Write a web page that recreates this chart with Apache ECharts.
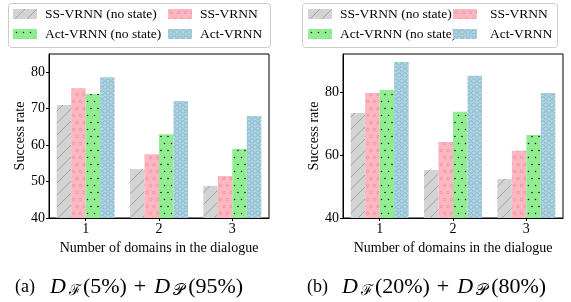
<!DOCTYPE html>
<html>
<head>
	<meta charset="utf-8">
	<title>Success rate by number of domains</title>
	<script src="https://cdn.jsdelivr.net/npm/echarts@6/dist/echarts.min.js"></script>
	<style>
		html, body { margin: 0; padding: 0; background: #fff; }
		#main { width: 571px; height: 302px; }
	</style>
</head>
<body>
<div id="main"></div>
<script>
    // 数据
    var categories = ['1', '2', '3'];
    var seriesNames = ['SS-VRNN (no state)', 'SS-VRNN', 'Act-VRNN (no state)', 'Act-VRNN'];
    // (a) D_F(5%) + D_P(95%)
    var aSSNoState = [71.0, 53.4, 48.8];
    var aSS = [75.6, 57.5, 51.5];
    var aActNoState = [74.0, 63.0, 58.9];
    var aAct = [78.6, 72.1, 68.0];
    // (b) D_F(20%) + D_P(80%)
    var bSSNoState = [73.3, 55.2, 52.4];
    var bSS = [79.6, 64.1, 61.3];
    var bActNoState = [80.6, 73.7, 66.3];
    var bAct = [89.5, 85.1, 79.6];
    var aTicks = [40, 50, 60, 70, 80];
    var bTicks = [40, 60, 80];

    var serif = '"Liberation Serif", "DejaVu Serif", serif';

    // 填充图案 (hatch)
    function makeTile(w, h, bg, draw) {
        var c = document.createElement('canvas');
        c.width = w; c.height = h;
        var ctx = c.getContext('2d');
        ctx.fillStyle = bg;
        ctx.fillRect(0, 0, w, h);
        draw(ctx);
        return {image: c, repeat: 'repeat'};
    }
    function rings(ctx, pts, r) {
        pts.forEach(function(p){
            ctx.beginPath(); ctx.arc(p[0], p[1], r, 0, Math.PI * 2); ctx.stroke();
        });
    }
    var hatchGray = makeTile(12, 12, '#d3d3d3', function(ctx){
        ctx.strokeStyle = '#8e8e8e';
        ctx.lineWidth = 0.7;
        ctx.beginPath();
        ctx.moveTo(-1, 13); ctx.lineTo(13, -1);
        ctx.stroke();
    });
    var hatchPink = makeTile(7, 14, '#ffb6c1', function(ctx){
        ctx.strokeStyle = '#d08f99';
        ctx.lineWidth = 0.6;
        rings(ctx, [[3.5, 3.5], [0, 10.5], [7, 10.5]], 1.3);
    });
    var hatchGreen = makeTile(7, 14, '#90ee90', function(ctx){
        ctx.fillStyle = '#000';
        [[3.5, 3.5], [0, 10.5], [7, 10.5]].forEach(function(p){
            ctx.beginPath(); ctx.arc(p[0], p[1], 0.75, 0, Math.PI * 2); ctx.fill();
        });
    });
    var hatchBlue = makeTile(6, 12, '#add8e6', function(ctx){
        ctx.strokeStyle = '#7c9db0';
        ctx.lineWidth = 0.6;
        rings(ctx, [[3, 3], [0, 9], [6, 9]], 2.3);
    });
    var fills = [hatchGray, hatchPink, hatchGreen, hatchBlue];

    function makeSeries(idx, list) {
        return list.map(function(vals, i){
            return {
                name: seriesNames[i],
                type: 'bar',
                xAxisIndex: idx,
                yAxisIndex: idx,
                data: vals,
                barGap: '0%',
                barCategoryGap: '21%',
                itemStyle: {color: fills[i]},
                emphasis: {disabled: true}
            };
        });
    }

    function yAxis(idx, min, max, ticks) {
        return {
            type: 'value', gridIndex: idx, min: min, max: max,
            name: 'Success rate', nameLocation: 'middle', nameGap: 19,
            nameTextStyle: {fontFamily: serif, fontSize: 14, color: '#000'},
            axisLine: {show: true, lineStyle: {color: '#000'}},
            axisTick: {show: true, length: 3, customValues: ticks, lineStyle: {color: '#000'}},
            axisLabel: {customValues: ticks, fontFamily: serif, fontSize: 14, color: '#000', margin: 4},
            splitLine: {show: false}
        };
    }
    function xAxis(idx) {
        return {
            type: 'category', gridIndex: idx, data: categories,
            name: 'Number of domains in the dialogue', nameLocation: 'middle', nameGap: 15,
            nameTextStyle: {fontFamily: serif, fontSize: 14, color: '#000'},
            axisLine: {show: true, lineStyle: {color: '#000'}},
            axisTick: {show: true, length: 3, alignWithLabel: true, lineStyle: {color: '#000'}},
            axisLabel: {fontFamily: serif, fontSize: 14, color: '#000', margin: 4}
        };
    }

    // 图例: 每项单独定位 [第一列图标x, 第二列图标x, 第二列文字间距]
    var legendCols = [[13, 168, 3], [308, 453, 8]];
    var legends = [];
    legendCols.forEach(function(c){
        seriesNames.forEach(function(name, i){
            var col = i % 2, row = Math.floor(i / 2);
            legends.push({
                data: [name], left: col === 0 ? c[0] : c[1], top: 7 + row * 20, padding: 0,
                icon: 'rect', itemWidth: 24, itemHeight: 10,
                selectedMode: false,
                textStyle: {fontFamily: serif, fontSize: 13.5, color: '#000',
                    padding: [0, 0, 0, col === 0 ? 3 : c[2]]}
            });
        });
    });

    // 子图标题 (a)/(b)
    function caption(left, a, b) {
        return {
            left: left, top: 275, padding: 0,
            text: '{n|(' + a + ')}{i|D}{s|ℱ}{m|(' + b[0] + '%)}{p|+}{i|D}{t|𝒫}{m|(' + b[1] + '%)}',
            textStyle: {
                fontWeight: 'normal',
                rich: {
                    n: {fontFamily: serif, fontSize: 18, color: '#000', width: 35},
                    m: {fontFamily: serif, fontSize: 22, color: '#000', padding: [0, 7, 0, 0]},
                    p: {fontFamily: serif, fontSize: 22, color: '#000', padding: [0, 8, 0, 0]},
                    i: {fontFamily: serif, fontSize: 22, fontStyle: 'italic', color: '#000'},
                    s: {fontFamily: serif, fontSize: 15, color: '#000', padding: [8, 2, 0, 3]},
                    t: {fontFamily: serif, fontSize: 16, color: '#000', padding: [8, 3, 0, 3]}
                }
            }
        };
    }

    var chart = echarts.init(document.getElementById('main'), null, {renderer: 'canvas'});
    chart.setOption({
        animation: false,
        backgroundColor: '#fff',
        title: [caption(15, 'a', [5, 95]), caption(307, 'b', [20, 80])],
        legend: legends,
        graphic: [
            {type: 'rect', shape: {x: 8.5, y: 3.5, width: 262, height: 44, r: 3}, z: -1,
             style: {fill: '#fff', stroke: '#cccccc', lineWidth: 1}},
            {type: 'rect', shape: {x: 302.5, y: 3.5, width: 255, height: 44, r: 3}, z: -1,
             style: {fill: '#fff', stroke: '#cccccc', lineWidth: 1}}
        ],
        grid: [
            {left: 49, top: 54, width: 220, height: 164, show: true, borderColor: '#000', borderWidth: 1, backgroundColor: 'transparent'},
            {left: 343, top: 54, width: 220, height: 164, show: true, borderColor: '#000', borderWidth: 1, backgroundColor: 'transparent'}
        ],
        xAxis: [xAxis(0), xAxis(1)],
        yAxis: [yAxis(0, 40, 85, aTicks), yAxis(1, 40, 92, bTicks)],
        series: makeSeries(0, [aSSNoState, aSS, aActNoState, aAct])
            .concat(makeSeries(1, [bSSNoState, bSS, bActNoState, bAct]))
    });
    window.onresize = chart.resize;
</script>
</body>
</html>
